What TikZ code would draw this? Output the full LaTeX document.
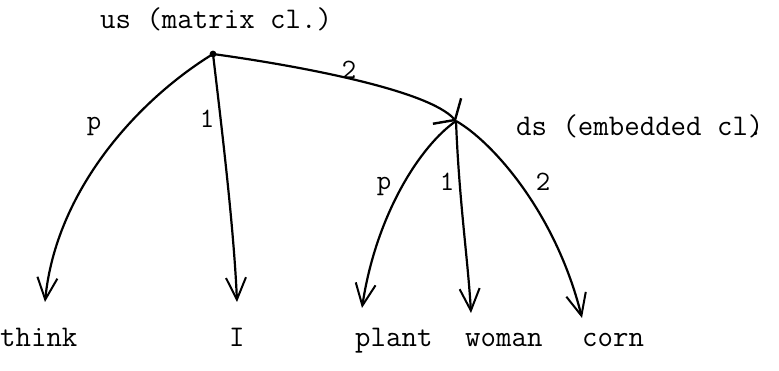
\documentclass[tikz,border=0pt]{standalone}
\usetikzlibrary{arrows.meta}
\tikzset{
  txt/.style={font=\ttfamily\fontsize{30}{30}\selectfont, inner sep=0pt, anchor=base west},
  lbl/.style={font=\ttfamily\fontsize{28}{28}\selectfont, inner sep=0pt},
  edge/.style={line width=2.2pt, -{Straight Barb[length=22pt,width=20pt,line width=2pt]}},
  wideedge/.style={line width=2.2pt, -{Straight Barb[length=12pt,width=38pt,line width=2.4pt]}},
}
\begin{document}
\begin{tikzpicture}[x=1pt,y=-1pt]
\useasboundingbox (0,0) rectangle (779,371);
% points
\coordinate (us) at (213,54);
\coordinate (ds) at (456,121);
\coordinate (think) at (45,302);
\coordinate (I) at (237,302);
\coordinate (plant) at (362,308);
\coordinate (woman) at (471,313);
\coordinate (corn) at (582,318);
\fill (us) circle (3.4pt);
% texts
\node[txt] (ustxt) at (100,29) {us (matrix cl.)};
\node[txt] (dstxt) at (516,136) {ds (embedded cl\rlap{.})};
\node[txt] (wthink) at (0,346) {think};
\node[txt] (wI) at (229,346) {I};
\node[txt] (wplant) at (355,346) {plant};
\node[txt] (wwoman) at (465,346) {woman};
\node[txt] (wcorn) at (582,346) {corn};
% connectors
\draw[edge] (us) .. controls (138,100) and (56,190) .. (think);
\draw[edge] (us) .. controls (222,130) and (234,230) .. (I);
\draw[wideedge] (us) .. controls (300,66) and (428,90) .. (ds);
\draw[edge] (ds) .. controls (420,146) and (376,215) .. (plant);
\draw[edge] (ds) .. controls (459,200) and (468,260) .. (woman);
\draw[edge] (ds) .. controls (490,140) and (555,210) .. (corn);
% edge labels
\node[lbl] (lp1) at (94,126) {p};
\node[lbl] (l11) at (207,119) {1};
\node[lbl] (l21) at (349,70) {2};
\node[lbl] (lp2) at (384,186) {p};
\node[lbl] (l12) at (447,182) {1};
\node[lbl] (l22) at (543,182) {2};
\end{tikzpicture}
\end{document}
